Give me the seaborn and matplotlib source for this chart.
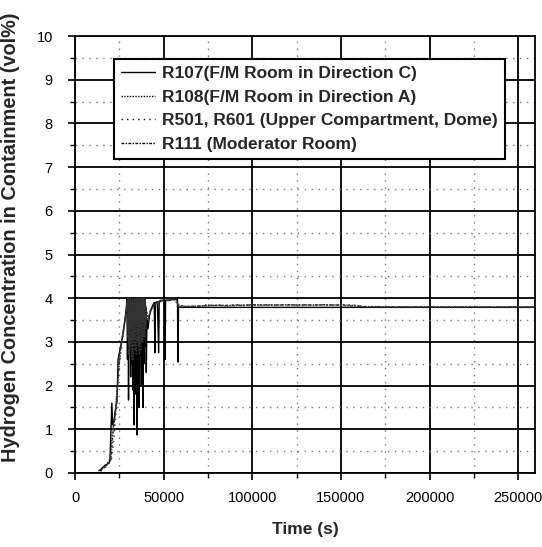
import matplotlib
matplotlib.use("Agg")
import matplotlib.pyplot as plt
from matplotlib.ticker import MultipleLocator
import seaborn as sns

# ---------------- data ----------------
t_r107 = [13500, 15000, 17000, 19000, 19700, 20300, 20800, 21200, 22000, 23000,
          23700, 24300, 25500, 26500, 27500, 28200, 29000,
          29300, 29600, 29900, 30200, 30500, 30800, 31100, 31400, 31700, 32000,
          32300, 32600, 32900, 33300, 33600, 33900, 34200, 34500, 34800, 35000,
          35300, 35600, 35900, 36200, 36500, 36800, 37100, 37400, 37700, 38000,
          38400, 38700, 39000, 39300, 39600, 39900, 40200, 40600, 41200, 42000,
          43000, 44000, 44700, 45100, 45400, 46500, 47200, 47500, 49000, 50500,
          50800, 51100, 53000, 55000, 57800, 58100, 58400, 60000, 100000, 150000,
          200000, 259000]
v_r107 = [0.05, 0.10, 0.18, 0.22, 0.28, 1.00, 1.60, 1.10, 1.20, 1.50,
          1.65, 2.60, 2.85, 3.05, 3.30, 3.50, 3.80,
          4.00, 2.60, 3.90, 1.67, 4.00, 2.90, 3.95, 2.20, 4.00, 2.50,
          3.90, 1.90, 4.00, 1.10, 3.95, 2.40, 4.00, 1.80, 3.90, 0.87,
          4.00, 2.30, 3.95, 1.50, 4.00, 2.70, 3.90, 2.00, 4.00, 2.80,
          1.50, 3.90, 2.50, 4.00, 2.90, 3.80, 2.30, 3.50, 3.30, 3.60,
          3.75, 3.85, 3.90, 2.75, 3.90, 3.92, 2.75, 3.93, 3.95, 3.95,
          2.60, 3.95, 3.95, 3.97, 3.98, 2.54, 3.80, 3.79, 3.79, 3.79,
          3.79, 3.79]

t_r108 = [14000, 16000, 18000, 20000, 21000, 22500, 24000, 25000, 26000, 27000,
          28000, 29000, 29500, 29800, 30100, 30400, 30700, 31000, 31300, 31600,
          31900, 32200, 32500, 32800, 33100, 33400, 33700, 34000, 34300, 34600,
          34900, 35200, 35500, 35800, 36100, 36400, 36700, 37000, 37300, 37600,
          37900, 38200, 38500, 38800, 39100, 39400, 39700, 40000, 40400, 41500,
          42500, 44000, 46000, 48000, 50000, 52000, 55000, 57000, 58000, 60000,
          66000, 72000, 74000, 78000, 82000, 86000, 90000, 95000, 100000, 105000,
          110000, 115000, 120000, 125000, 130000, 135000, 140000, 145000, 150000,
          155000, 160000, 163000, 200000, 259000]
v_r108 = [0.05, 0.12, 0.20, 0.35, 0.90, 1.30, 2.00, 2.70, 2.95, 3.20,
          3.45, 3.70, 3.95, 3.20, 4.00, 3.00, 3.90, 2.80, 4.00, 3.30,
          3.95, 2.60, 4.00, 3.10, 3.90, 2.90, 4.00, 3.40, 3.95, 2.70,
          4.00, 3.20, 3.90, 2.90, 4.00, 3.50, 3.95, 2.80, 4.00, 3.30,
          3.90, 3.00, 4.00, 3.40, 3.95, 3.10, 3.90, 3.50, 3.70, 3.55,
          3.70, 3.85, 3.90, 3.95, 3.97, 3.98, 3.97, 3.98, 3.85, 3.81,
          3.81, 3.82, 3.85, 3.83, 3.84, 3.82, 3.85, 3.83, 3.85, 3.84,
          3.85, 3.84, 3.85, 3.84, 3.85, 3.84, 3.85, 3.84, 3.85,
          3.84, 3.83, 3.80, 3.80, 3.80]

t_r501 = [14500, 16500, 18500, 20500, 22000, 23500, 25000, 26500, 28000, 29200,
          29500, 29900, 30300, 30700, 31100, 31500, 31900, 32300, 32700, 33100,
          33500, 33900, 34300, 34700, 35100, 35500, 35900, 36300, 36700, 37100,
          37500, 37900, 38300, 38700, 39100, 39500, 39900, 40300, 41000, 43000,
          45000, 48000, 52000, 56000, 58500, 62000, 70000, 76000, 84000, 92000,
          100000, 110000, 120000, 130000, 140000, 150000, 158000, 165000, 200000,
          259000]
v_r501 = [0.04, 0.10, 0.18, 0.30, 0.80, 1.60, 2.50, 2.95, 3.40, 3.75,
          4.00, 3.30, 3.95, 2.90, 4.00, 3.50, 3.90, 3.00, 4.00, 3.60,
          3.95, 3.20, 4.00, 3.40, 3.90, 3.10, 4.00, 3.60, 3.95, 3.20,
          4.00, 3.50, 3.90, 3.30, 4.00, 3.60, 3.85, 3.55, 3.60, 3.75,
          3.85, 3.92, 3.96, 3.97, 3.85, 3.81, 3.82, 3.84, 3.83, 3.85,
          3.84, 3.85, 3.84, 3.85, 3.84, 3.85, 3.84, 3.80, 3.80,
          3.80]

t_r111 = [14200, 16200, 18200, 20200, 21500, 23000, 24500, 25800, 27200, 28500,
          29400, 29700, 30000, 30350, 30650, 30950, 31250, 31550, 31850, 32150,
          32450, 32750, 33050, 33350, 33650, 33950, 34250, 34550, 34850, 35150,
          35450, 35750, 36050, 36350, 36650, 36950, 37250, 37550, 37850, 38150,
          38450, 38750, 39050, 39350, 39650, 39950, 40300, 41000, 42500, 45000,
          48000, 52000, 56000, 58300, 62000, 70000, 80000, 90000, 100000, 110000,
          120000, 130000, 140000, 150000, 160000, 200000, 259000]
v_r111 = [0.05, 0.11, 0.19, 0.30, 0.95, 1.45, 2.30, 2.85, 3.25, 3.60,
          3.90, 3.10, 4.00, 2.70, 3.95, 3.30, 4.00, 2.90, 3.90, 3.40,
          4.00, 2.60, 3.95, 3.20, 4.00, 2.80, 3.90, 3.50, 4.00, 3.00,
          3.95, 3.30, 4.00, 2.70, 3.90, 3.40, 4.00, 3.00, 3.95, 3.50,
          4.00, 3.10, 3.90, 3.40, 4.00, 3.30, 3.60, 3.50, 3.70, 3.85,
          3.92, 3.95, 3.97, 3.84, 3.81, 3.82, 3.84, 3.83, 3.85, 3.84,
          3.85, 3.84, 3.85, 3.84, 3.81, 3.80, 3.80]

labels = ["R107(F/M Room in Direction C)",
          "R108(F/M Room in Direction A)",
          "R501, R601 (Upper Compartment, Dome)",
          "R111 (Moderator Room)"]
x_ticks = [0, 50000, 100000, 150000, 200000, 250000]
y_ticks = [0, 1, 2, 3, 4, 5, 6, 7, 8, 9, 10]

# ---------------- style ----------------
sns.set_style("ticks")
plt.rcParams["font.family"] = ["Liberation Sans", "DejaVu Sans"]

fig = plt.figure(figsize=(5.42, 5.47), dpi=100)
ax = fig.add_axes([75 / 542, 74 / 547, 460 / 542, 437 / 547])

series = [
    (t_r108, v_r108, labels[1], (0, (1, 1)), 1.0),
    (t_r501, v_r501, labels[2], (0, (1, 3)), 1.0),
    (t_r111, v_r111, labels[3], (0, (2, 1, 1, 1)), 1.0),
]
sns.lineplot(x=t_r107, y=v_r107, ax=ax, color="black", linewidth=1.0,
             sort=False, estimator=None, label=labels[0])
for t, v, lab, ls, lw in series:
    sns.lineplot(x=t, y=v, ax=ax, color="#333333", linewidth=lw, linestyle=ls,
                 sort=False, estimator=None, label=lab)

ax.set_xlim(0, 259500)
ax.set_ylim(0, 10)
ax.set_xticks(x_ticks)
ax.set_yticks(y_ticks)
ax.xaxis.set_minor_locator(MultipleLocator(25000))
ax.yaxis.set_minor_locator(MultipleLocator(0.5))

ax.grid(which="major", color="black", linewidth=1.3, linestyle="-")
ax.grid(which="minor", color="#777777", linewidth=1.0, linestyle=(0, (1, 4)))
ax.set_axisbelow(True)

for s in ax.spines.values():
    s.set_visible(True)
    s.set_color("black")
    s.set_linewidth(1.3)

ax.tick_params(which="major", direction="out", length=5, width=1.2,
               colors="black", labelsize=10.5, pad=8)
ax.tick_params(axis="y", which="major", pad=11)
ax.tick_params(which="minor", direction="out", length=3.5, width=1.0,
               colors="black")

ax.set_xlabel("Time (s)", fontsize=12.5, fontweight="bold", labelpad=12)
ax.set_ylabel("Hydrogen Concentration in Containment (vol%)", fontsize=14.3,
              fontweight="bold", labelpad=10)
ax.yaxis.set_label_coords(-0.12, 0.54)

leg = ax.legend(loc="upper left", bbox_to_anchor=(0.065, 0.968),
                prop={"weight": "bold", "size": 12.5},
                handlelength=2.0, handletextpad=0.4, labelspacing=0.5,
                borderpad=0.4, fancybox=False, framealpha=1,
                edgecolor="black")
leg.get_frame().set_linewidth(1.5)
for h in leg.get_lines():
    h.set_color("black")

fig.savefig("out.png", dpi=100)
